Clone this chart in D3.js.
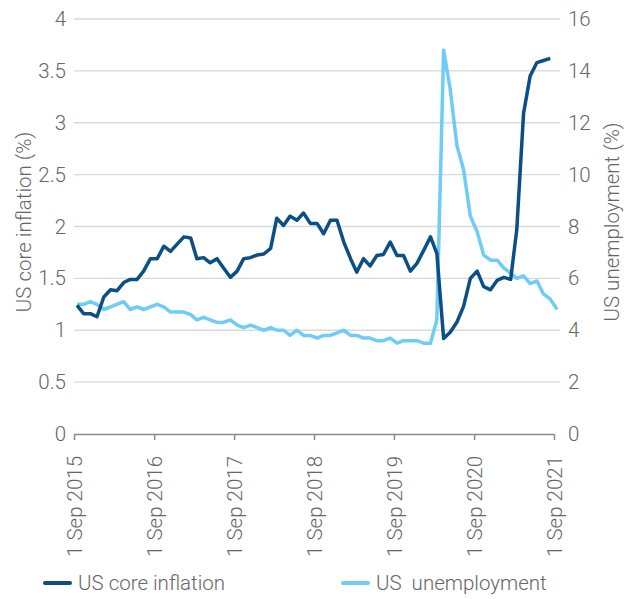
<!DOCTYPE html>
<html>
<head>
<meta charset="utf-8">
<script src="https://cdn.jsdelivr.net/npm/d3@7"></script>
<style>
  html, body { margin: 0; padding: 0; background: #fff; }
  svg { display: block; }
  text { font-family: Roboto, "Noto Sans", sans-serif; font-weight: 300; fill: #666; }
</style>
</head>
<body>
<svg id="chart" width="633" height="599"></svg>
<script>
// Monthly data, Sep 2015 onwards
const startMonth = "2015-09";
const inflation = [
  1.24, 1.16, 1.16, 1.13,
  1.32, 1.39, 1.38, 1.46, 1.49, 1.49, 1.57, 1.69, 1.69, 1.81, 1.76, 1.83,
  1.90, 1.89, 1.69, 1.70, 1.65, 1.69, 1.60, 1.51, 1.57, 1.69, 1.70, 1.725,
  1.735, 1.79, 2.08, 2.01, 2.10, 2.06, 2.13, 2.03, 2.03, 1.93, 2.06, 2.06,
  1.85, 1.69, 1.56, 1.69, 1.62, 1.72, 1.73, 1.85, 1.72, 1.72, 1.57, 1.645,
  1.77, 1.90, 1.74, 0.92, 0.98, 1.08, 1.23, 1.50, 1.57, 1.42, 1.39, 1.48,
  1.51, 1.49, 1.97, 3.09, 3.45, 3.58, 3.60, 3.62
];
const unemployment = [
  5.0, 5.0, 5.1, 5.0,
  4.8, 4.9, 5.0, 5.1, 4.8, 4.9, 4.8, 4.9, 5.0, 4.9, 4.7, 4.7,
  4.7, 4.6, 4.4, 4.5, 4.4, 4.3, 4.3, 4.4, 4.2, 4.1, 4.2, 4.1,
  4.0, 4.1, 4.0, 4.0, 3.8, 4.0, 3.8, 3.8, 3.7, 3.8, 3.8, 3.9,
  4.0, 3.8, 3.8, 3.7, 3.7, 3.6, 3.6, 3.7, 3.5, 3.6, 3.6, 3.6,
  3.5, 3.5, 4.4, 14.8, 13.3, 11.1, 10.2, 8.4, 7.8, 6.9, 6.7, 6.7,
  6.4, 6.2, 6.0, 6.1, 5.8, 5.9, 5.4, 5.2, 4.8
];
const xTickLabels = ["1 Sep 2015","1 Sep 2016","1 Sep 2017","1 Sep 2018","1 Sep 2019","1 Sep 2020","1 Sep 2021"];
const leftTicks = [0, 0.5, 1, 1.5, 2, 2.5, 3, 3.5, 4];
const rightTicks = [0, 2, 4, 6, 8, 10, 12, 14, 16];
const seriesNames = ["US core inflation", "US\u00a0 unemployment"];
const leftTitle = "US core inflation (%)";
const rightTitle = "US unemployment (%)";

const colors = { inflation: "#0b4f85", unemployment: "#6fcdf5" };

const svg = d3.select("#chart");
const L = 74, R = 554, T = 19, B = 434;
const FS = 20.5;

const parse = d3.timeParse("%Y-%m-%d");
const start = parse(startMonth + "-01");
const monthDate = i => new Date(start.getFullYear(), start.getMonth() + i, 15);
const tickDates = xTickLabels.map((d, i) => new Date(start.getFullYear() + i, start.getMonth(), 1));

const x = d3.scaleTime().domain([tickDates[0], tickDates[tickDates.length - 1]]).range([L, R]);
const yL = d3.scaleLinear().domain([0, 4]).range([B, T]);
const yR = d3.scaleLinear().domain([0, 16]).range([B, T]);

// gridlines
svg.append("g").selectAll("line").data(leftTicks.filter(d => d > 0)).join("line")
  .attr("x1", L).attr("x2", 560)
  .attr("y1", d => yL(d)).attr("y2", d => yL(d))
  .attr("stroke", "#d9d9d9").attr("stroke-width", 1.3);

// x axis
const xAxis = d3.axisBottom(x).tickValues(tickDates).tickSize(6).tickFormat((d, i) => xTickLabels[i]);
const gx = svg.append("g").attr("transform", `translate(0,${B})`).call(xAxis);
gx.select(".domain").attr("stroke", "#8a8a8a").attr("stroke-width", 1.5).attr("d", `M${L},0.5H${R}`);
gx.selectAll(".tick line").attr("stroke", "#8a8a8a").attr("stroke-width", 1.5);
gx.selectAll(".tick text")
  .attr("font-size", FS)
  .attr("text-anchor", "end")
  .attr("transform", "translate(0,22) rotate(-90)")
  .attr("x", 0).attr("y", 0).attr("dy", "0.36em")
  .style("font-family", "Roboto").style("font-weight", 300).attr("fill", "#666");

// left axis
const gl = svg.append("g").attr("transform", `translate(${L},0)`)
  .call(d3.axisLeft(yL).tickValues(leftTicks).tickSize(0).tickPadding(8).tickFormat(d3.format("")));
gl.select(".domain").remove();
gl.selectAll("text").attr("font-size", FS).style("font-family", "Roboto").style("font-weight", 300).attr("fill", "#666");

// right axis
const gr = svg.append("g").attr("transform", `translate(${R},0)`)
  .call(d3.axisRight(yR).tickValues(rightTicks).tickSize(0).tickPadding(14).tickFormat(d3.format("")));
gr.select(".domain").remove();
gr.selectAll("text").attr("font-size", FS).style("font-family", "Roboto").style("font-weight", 300).attr("fill", "#666");

// axis titles
svg.append("text").attr("transform", `translate(31,222) rotate(-90)`)
  .attr("text-anchor", "middle").attr("font-size", FS).text(leftTitle);
svg.append("text").attr("transform", `translate(619,222) rotate(-90)`)
  .attr("text-anchor", "middle").attr("font-size", FS).text(rightTitle);

// lines
const lineU = d3.line().x((d, i) => x(monthDate(i))).y(d => yR(d));
const lineI = d3.line().x((d, i) => x(monthDate(i))).y(d => yL(d));
svg.append("path").datum(unemployment).attr("d", lineU)
  .attr("fill", "none").attr("stroke", colors.unemployment).attr("stroke-width", 3.5)
  .attr("stroke-linejoin", "round");
svg.append("path").datum(inflation).attr("d", lineI)
  .attr("fill", "none").attr("stroke", colors.inflation).attr("stroke-width", 3.5)
  .attr("stroke-linejoin", "round");

// legend
const legend = [
  { name: seriesNames[0], color: colors.inflation, x: 45 },
  { name: seriesNames[1], color: colors.unemployment, x: 343 }
];
const lg = svg.append("g").selectAll("g").data(legend).join("g")
  .attr("transform", d => `translate(${d.x},583)`);
lg.append("line").attr("x1", 0).attr("x2", 25).attr("y1", 0).attr("y2", 0)
  .attr("stroke", d => d.color).attr("stroke-width", 4).attr("stroke-linecap", "round");
lg.append("text").attr("x", 33).attr("y", 0).attr("dy", "0.35em").attr("font-size", FS)
  .style("white-space", "pre").text(d => d.name);
</script>
</body>
</html>
